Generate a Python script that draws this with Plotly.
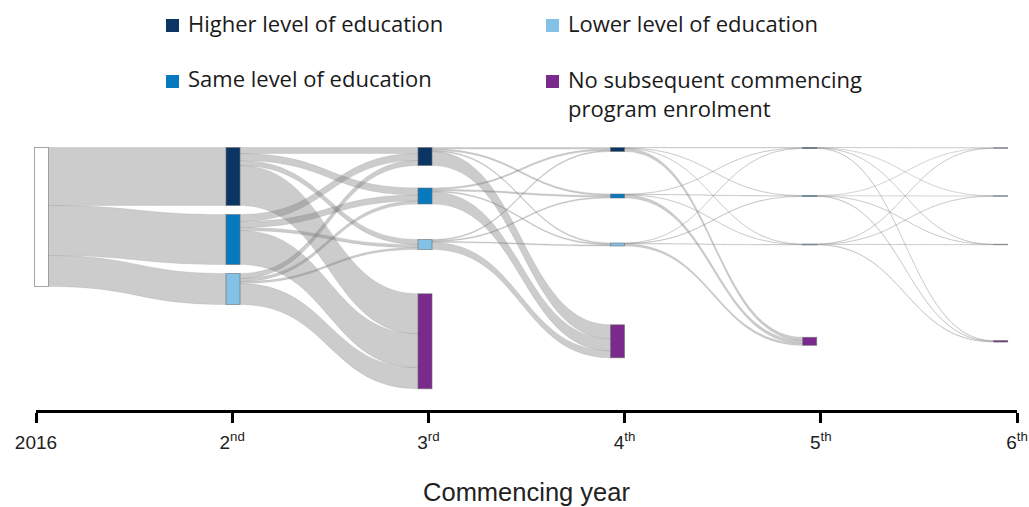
import plotly.graph_objects as go

# ---------------- data ----------------
years = ["2016", "2nd", "3rd", "4th", "5th", "6th"]
tick_text = ["2016", "2<sup>nd</sup>", "3<sup>rd</sup>", "4<sup>th</sup>", "5<sup>th</sup>", "6<sup>th</sup>"]
categories = ["H", "S", "L", "N"]
legend_labels = ["Higher level of education", "Lower level of education",
                 "Same level of education", "No subsequent commencing<br>program enrolment"]

# flows between consecutive commencing years  (source node, target node, value)
link_source = ["2016", "2016", "2016",
               "2nd-H", "2nd-H", "2nd-H", "2nd-H",
               "2nd-S", "2nd-S", "2nd-S", "2nd-S",
               "2nd-L", "2nd-L", "2nd-L", "2nd-L",
               "3rd-H", "3rd-H", "3rd-H", "3rd-H",
               "3rd-S", "3rd-S", "3rd-S", "3rd-S",
               "3rd-L", "3rd-L", "3rd-L", "3rd-L",
               "4th-H", "4th-H", "4th-H", "4th-H",
               "4th-S", "4th-S", "4th-S", "4th-S",
               "4th-L", "4th-L", "4th-L", "4th-L",
               "5th-H", "5th-H", "5th-H", "5th-H",
               "5th-S", "5th-S", "5th-S", "5th-S",
               "5th-L", "5th-L", "5th-L", "5th-L"]
link_target = ["2nd-H", "2nd-S", "2nd-L",
               "3rd-H", "3rd-S", "3rd-L", "3rd-N",
               "3rd-H", "3rd-S", "3rd-L", "3rd-N",
               "3rd-H", "3rd-S", "3rd-L", "3rd-N",
               "4th-H", "4th-S", "4th-L", "4th-N",
               "4th-H", "4th-S", "4th-L", "4th-N",
               "4th-H", "4th-S", "4th-L", "4th-N",
               "5th-H", "5th-S", "5th-L", "5th-N",
               "5th-H", "5th-S", "5th-L", "5th-N",
               "5th-H", "5th-S", "5th-L", "5th-N",
               "6th-H", "6th-S", "6th-L", "6th-N",
               "6th-H", "6th-S", "6th-L", "6th-N",
               "6th-H", "6th-S", "6th-L", "6th-N"]
link_value = [58, 50, 31,
              6, 7, 5, 40,
              7, 6, 3, 34,
              5, 3, 2, 21,
              1.5, 1.5, 1, 14,
              1.5, 1.5, 1, 12,
              1, 1, 1, 7,
              0.4, 0.3, 0.3, 3,
              0.3, 0.4, 0.3, 3,
              0.3, 0.3, 0.4, 2,
              0.2, 0.15, 0.15, 0.5,
              0.15, 0.2, 0.15, 0.5,
              0.15, 0.15, 0.2, 0.5]

# ---------------- styles / layout ----------------
W, H = 1029, 507
cat_color = {"H": "#0b3564", "S": "#0779be", "L": "#83c2e6", "N": "#792a8c", "start": "#ffffff"}
link_rgba = "rgba(120,120,120,0.38)"

node_ids = ["2016"] + [f"{y}-{c}" for y in years[1:] for c in categories if not (y == "2nd" and c == "N")]
idx = {n: i for i, n in enumerate(node_ids)}

# node values = max(in, out)
vin = {n: 0.0 for n in node_ids}
vout = {n: 0.0 for n in node_ids}
for s, t, v in zip(link_source, link_target, link_value):
    vout[s] += v
    vin[t] += v
nval = {n: max(vin[n], vout[n]) for n in node_ids}

# sankey domain in pixels
top_px, bot_px = 130.0, 400.0
dom_h = bot_px - top_px
col_sum = sum(nval[n] for n in node_ids if n.startswith("3rd"))
pad = (dom_h - col_sum) / 3.0          # gives 1 px per unit
ky = 1.0
thick = 14
col_center = [41.5, 233, 425, 617.5, 809.7, 1000.7]
row_center = {"S": 196.0, "L": 244.5, "N": 341.3}
top_edge = 147.5

node_x, node_y, node_col = [], [], []
stack = top_edge
for n in node_ids:
    y = n.split("-")[0]
    yi = years.index(y)
    h = nval[n] * ky
    if n == "2016":
        cy = top_edge + h / 2
        col = cat_color["start"]
    else:
        c = n.split("-")[1]
        col = cat_color[c]
        if yi == 1:
            cy = stack + h / 2
            stack += h + 9
        elif c == "H":
            cy = top_edge + max(h, 1) / 2
        else:
            cy = row_center[c]
    node_x.append(col_center[yi] / W)
    node_y.append((cy - top_px) / dom_h)
    node_col.append(col)

fig = go.Figure()
fig.add_trace(go.Sankey(
    arrangement="fixed",
    domain=dict(x=[0, 1], y=[1 - bot_px / H, 1 - top_px / H]),
    node=dict(
        label=["" for _ in node_ids],
        x=node_x, y=node_y,
        pad=pad, thickness=thick, align="left",
        color=node_col,
        line=dict(color="rgba(110,110,110,0.75)", width=0.8),
    ),
    link=dict(
        source=[idx[s] for s in link_source],
        target=[idx[t] for t in link_target],
        value=link_value,
        color=link_rgba,
        line=dict(color="rgba(140,140,140,0.4)", width=0.5),
    ),
    hoverinfo="skip",
))

# invisible cartesian trace to carry the year axis
fig.add_trace(go.Scatter(x=list(range(len(years))), y=[0] * len(years), mode="markers",
                         marker=dict(opacity=0), hoverinfo="skip", showlegend=False))

axis_y_px = 410
fig.update_layout(
    width=W, height=H,
    margin=dict(l=0, r=0, t=0, b=0, autoexpand=False),
    paper_bgcolor="white", plot_bgcolor="rgba(0,0,0,0)",
    showlegend=False,
    xaxis=dict(domain=[36 / W, 1017 / W], range=[0, 5], tickmode="array",
               tickvals=list(range(len(years))), ticktext=tick_text,
               showline=True, linewidth=3, linecolor="black",
               ticks="outside", ticklen=10, tickwidth=3, tickcolor="black",
               showgrid=False, zeroline=False, ticklabelstandoff=3, automargin=False,
               tickfont=dict(family="Liberation Sans, Arial", size=19, color="#222"),
               title=dict(text="Commencing year", standoff=32,
                          font=dict(family="Liberation Sans, Arial", size=25.5, color="#222")),
               fixedrange=True),
    yaxis=dict(domain=[1 - axis_y_px / H, 0.5], visible=False, range=[0, 1],
               fixedrange=True, automargin=False),
)

# legend (squares + text)
leg_pos = [(166, 19, 186, 23.2), (546, 19, 566, 23.2), (166, 75, 186, 77.8), (546, 75, 566, 61.8)]
leg_cols = [cat_color["H"], cat_color["L"], cat_color["S"], cat_color["N"]]
for (sx, sy, tx, ty), col, lab in zip(leg_pos, leg_cols, legend_labels):
    fig.add_shape(type="rect", xref="paper", yref="paper",
                  x0=sx / W, x1=(sx + 13) / W, y0=1 - sy / H, y1=1 - (sy + 13) / H,
                  fillcolor=col, line=dict(width=0))
    multi = "<br>" in lab
    fig.add_annotation(xref="paper", yref="paper", x=tx / W, y=1 - ty / H,
                       xanchor="left", yanchor="top" if multi else "middle",
                       align="left", showarrow=False, text=lab,
                       font=dict(family="Open Sans", size=22, color="#1a1a1a"))

fig.write_html("out.html", config={"displayModeBar": False},
               post_script="document.body.style.margin='0px';")
